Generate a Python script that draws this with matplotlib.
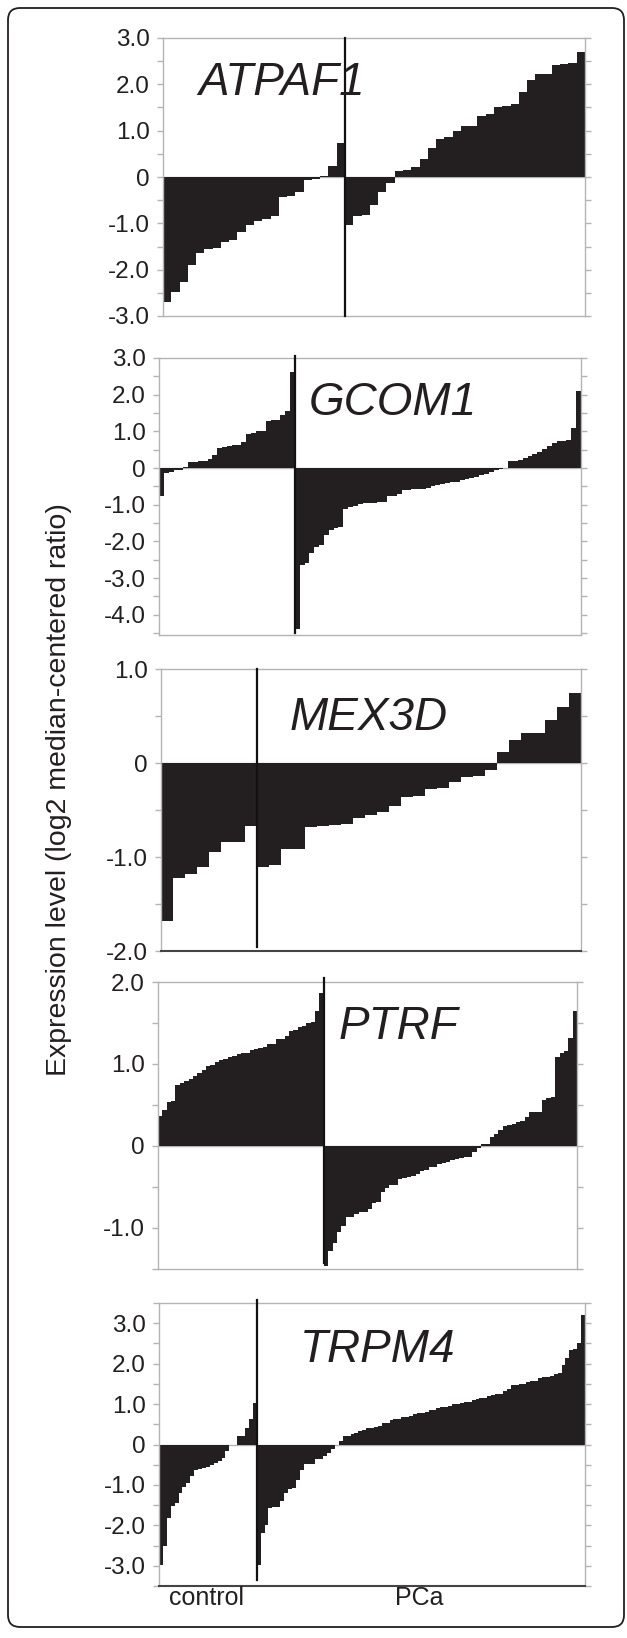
import numpy as np
import matplotlib.pyplot as plt
from matplotlib.ticker import MultipleLocator
from matplotlib.patches import FancyBboxPatch

# Sorted expression values per gene (control samples first, then PCa)
genes = ["ATPAF1", "GCOM1", "MEX3D", "PTRF", "TRPM4"]

atpaf1_control = [-2.70, -2.48, -2.27, -1.91, -1.64, -1.55, -1.53, -1.40, -1.37, -1.18, -1.04,
                  -0.94, -0.91, -0.85, -0.43, -0.42, -0.32, -0.06, -0.04, 0.03, 0.24, 0.73]
atpaf1_pca = [-1.04, -0.85, -0.83, -0.61, -0.32, -0.13, 0.12, 0.16, 0.22, 0.39, 0.63, 0.83,
              0.86, 0.99, 1.09, 1.09, 1.32, 1.35, 1.51, 1.53, 1.57, 1.83, 2.09, 2.23, 2.23,
              2.41, 2.43, 2.45, 2.69]

gcom1_control = [-0.75, -0.13, -0.12, -0.05, -0.04, 0.04, 0.16, 0.17, 0.19, 0.20, 0.25, 0.36,
                 0.56, 0.57, 0.59, 0.62, 0.63, 0.70, 0.93, 0.95, 1.00, 1.01, 1.29, 1.30, 1.31,
                 1.44, 1.55, 2.61]
gcom1_pca = [-4.40, -2.64, -2.60, -2.32, -2.14, -2.10, -1.82, -1.70, -1.64, -1.61, -1.12, -1.06,
             -1.04, -0.98, -0.96, -0.95, -0.94, -0.93, -0.92, -0.77, -0.75, -0.70, -0.61, -0.60,
             -0.58, -0.57, -0.56, -0.54, -0.50, -0.47, -0.44, -0.42, -0.39, -0.37, -0.33, -0.30,
             -0.27, -0.24, -0.20, -0.16, -0.12, -0.06, -0.02, 0.01, 0.18, 0.20, 0.22, 0.28, 0.33,
             0.38, 0.45, 0.52, 0.60, 0.68, 0.73, 0.74, 0.76, 1.10, 2.10]

mex3d_control = [-1.68, -1.22, -1.18, -1.11, -0.95, -0.84, -0.84, -0.67]
mex3d_pca = [-1.11, -1.09, -0.92, -0.91, -0.68, -0.67, -0.66, -0.65, -0.59, -0.55, -0.52, -0.46,
             -0.36, -0.35, -0.28, -0.27, -0.20, -0.15, -0.14, -0.07, 0.12, 0.25, 0.32, 0.32,
             0.46, 0.60, 0.74]

ptrf_control = [0.36, 0.44, 0.54, 0.55, 0.74, 0.77, 0.79, 0.82, 0.85, 0.89, 0.93, 0.97, 0.99,
                1.02, 1.05, 1.06, 1.08, 1.10, 1.12, 1.13, 1.14, 1.17, 1.18, 1.19, 1.21, 1.25,
                1.25, 1.30, 1.31, 1.34, 1.40, 1.41, 1.45, 1.46, 1.50, 1.51, 1.65, 1.87]
ptrf_pca = [-1.46, -1.28, -1.18, -1.05, -0.98, -0.87, -0.86, -0.83, -0.80, -0.80, -0.77, -0.69,
            -0.68, -0.56, -0.51, -0.48, -0.47, -0.40, -0.39, -0.38, -0.36, -0.34, -0.30, -0.29,
            -0.26, -0.25, -0.22, -0.21, -0.20, -0.17, -0.16, -0.15, -0.14, -0.13, -0.07, -0.02,
            0.02, 0.02, 0.11, 0.15, 0.19, 0.24, 0.26, 0.27, 0.29, 0.30, 0.35, 0.41, 0.41, 0.42,
            0.56, 0.58, 0.60, 1.08, 1.14, 1.16, 1.32, 1.65]

trpm4_control = [-2.97, -2.50, -1.83, -1.52, -1.45, -1.20, -1.05, -0.95, -0.78, -0.62, -0.60,
                 -0.58, -0.55, -0.50, -0.45, -0.40, -0.33, -0.15, -0.02, -0.01, 0.20, 0.22,
                 0.40, 0.62, 1.02]
trpm4_pca = [-2.97, -2.18, -1.98, -1.56, -1.55, -1.54, -1.40, -1.19, -1.09, -1.08, -0.88, -0.63,
             -0.49, -0.48, -0.47, -0.37, -0.36, -0.28, -0.20, -0.12, -0.02, 0.09, 0.20, 0.22,
             0.27, 0.28, 0.33, 0.35, 0.40, 0.42, 0.44, 0.46, 0.52, 0.53, 0.60, 0.62, 0.63, 0.67,
             0.69, 0.70, 0.75, 0.77, 0.79, 0.80, 0.85, 0.86, 0.90, 0.92, 0.93, 0.95, 1.00, 1.01,
             1.02, 1.04, 1.05, 1.10, 1.12, 1.14, 1.16, 1.20, 1.22, 1.24, 1.26, 1.32, 1.38, 1.47,
             1.48, 1.49, 1.50, 1.54, 1.56, 1.58, 1.65, 1.67, 1.68, 1.70, 1.75, 1.78, 1.97, 2.15,
             2.33, 2.35, 2.50, 3.20]

controls = [atpaf1_control, gcom1_control, mex3d_control, ptrf_control, trpm4_control]
pcas = [atpaf1_pca, gcom1_pca, mex3d_pca, ptrf_pca, trpm4_pca]

y_limits = [(-3, 3), (-4.55, 3), (-2, 1), (-1.5, 2), (-3.5, 3.5)]
y_ticks = [[3, 2, 1, 0, -1, -2, -3],
           [3, 2, 1, 0, -1, -2, -3, -4],
           [1, 0, -1, -2],
           [2, 1, 0, -1],
           [3, 2, 1, 0, -1, -2, -3]]

# layout in pixels: left, top, right, bottom
W, H = 627, 1638
boxes = [(163, 38, 585, 316), (159, 358, 581, 635), (161, 669, 581, 951),
         (158, 982, 577, 1269), (159, 1303, 585, 1586)]
label_xy = [(0.083, 0.796), (0.354, 0.795), (0.305, 0.785), (0.43, 0.80), (0.331, 0.793)]
divider_span = [(0.0, 1.0), (0.006, 1.006), (0.013, 1.0), (0.02, 1.014), (0.022, 1.012)]
dark_bottom = [False, False, True, False, True]

plt.rcParams['font.family'] = ['Liberation Sans', 'DejaVu Sans']
ink = '#231f20'
frame = '#b4b4b4'

fig = plt.figure(figsize=(W / 100, H / 100), dpi=100)

for i, gene in enumerate(genes):
    l, t, r, b = boxes[i]
    ax = fig.add_axes([l / W, 1 - b / H, (r - l) / W, (b - t) / H])
    vals = np.array(controls[i] + pcas[i])
    n_ctrl = len(controls[i])

    # one filled step outline per panel, so adjacent samples have no seams
    ax.stairs(vals, np.arange(len(vals) + 1), baseline=0, fill=True, color=ink, lw=0, zorder=2)
    ax.axhline(0, color=frame, lw=1, zorder=1)
    lo, hi = divider_span[i]
    ax.axvline(n_ctrl, ymin=lo, ymax=hi, color='#111111', lw=1.6, clip_on=False, zorder=3)

    ax.set_xlim(0, len(vals))
    ax.set_ylim(*y_limits[i])
    ax.set_xticks([])
    ax.set_yticks(y_ticks[i])
    ax.set_yticklabels(["0" if v == 0 else f"{v:.1f}" for v in y_ticks[i]])
    ax.yaxis.set_minor_locator(MultipleLocator(0.5))
    ax.tick_params(axis='y', which='both', direction='out', length=4.5, width=1,
                   color=frame, left=True, right=True, labelsize=17.5, labelcolor=ink, pad=5)
    for side in ax.spines.values():
        side.set_color(frame)
        side.set_linewidth(1)
    if dark_bottom[i]:
        ax.spines['bottom'].set_color('#444444')
        ax.spines['bottom'].set_linewidth(1.5)

    ax.text(label_xy[i][0], label_xy[i][1], gene, transform=ax.transAxes, fontsize=33,
            style='italic', color=ink, ha='left', va='baseline')

# group labels under the last panel
fig.text(206 / W, 1 - 1598 / H, "control", ha='center', va='center', fontsize=18, color=ink)
fig.text(419 / W, 1 - 1598 / H, "PCa", ha='center', va='center', fontsize=18, color=ink)

fig.text(59 / W, 1 - 790 / H, "Expression level (log2 median-centered ratio)", rotation=90,
         ha='center', va='center', fontsize=20.5, color=ink)

# rounded outer frame
border = FancyBboxPatch((0.08, 0.11), 6.16, 16.19, boxstyle="round,pad=0,rounding_size=0.12",
                        transform=fig.dpi_scale_trans, fill=False, ec=ink, lw=1.3)
fig.patches.append(border)

fig.savefig("out.png", dpi=100)
